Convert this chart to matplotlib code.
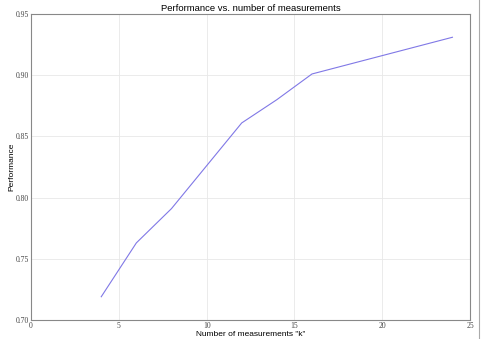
import matplotlib
matplotlib.use("Agg")
import matplotlib.pyplot as plt
from matplotlib.lines import Line2D

k_values = [4, 6, 8, 10, 12, 14, 16, 24]
performance = [0.719, 0.763, 0.791, 0.826, 0.861, 0.880, 0.901, 0.931]
x_ticks = [0, 5, 10, 15, 20, 25]
y_ticks = [0.70, 0.75, 0.80, 0.85, 0.90, 0.95]

fig = plt.figure(figsize=(4.83, 3.39), dpi=100)
ax = fig.add_axes([31/483, 1 - 320/339, (470-31)/483, (320-14)/339])
ax.plot(k_values, performance, color="#8078e6", linewidth=0.8)
ax.set_xlim(0, 25)
ax.set_ylim(0.70, 0.95)
ax.set_xticks(x_ticks)
ax.set_yticks(y_ticks)
ax.set_xticklabels([str(t) for t in x_ticks])
ax.set_yticklabels([f"{t:.2f}" for t in y_ticks])
ax.tick_params(length=0, labelsize=5.5, colors="#444444", pad=1.5)
for lab in ax.get_xticklabels() + ax.get_yticklabels():
    lab.set_family("Liberation Serif")
ax.grid(True, color="#e8e8e8", linewidth=0.6)
for s in ax.spines.values():
    s.set_color("#888888")
    s.set_linewidth(0.8)
ax.set_title("Performance vs. number of measurements", fontsize=6.8,
             family="Liberation Sans", pad=2)
ax.set_xlabel('Number of measurements "k"', fontsize=6, family="Liberation Sans", labelpad=1)
ax.set_ylabel("Performance", fontsize=6, family="Liberation Sans", labelpad=0.5)
fig.add_artist(Line2D([479/483, 479/483], [0, 1], color="#aaaaaa", linewidth=0.8))
fig.savefig("out.png", dpi=100)
